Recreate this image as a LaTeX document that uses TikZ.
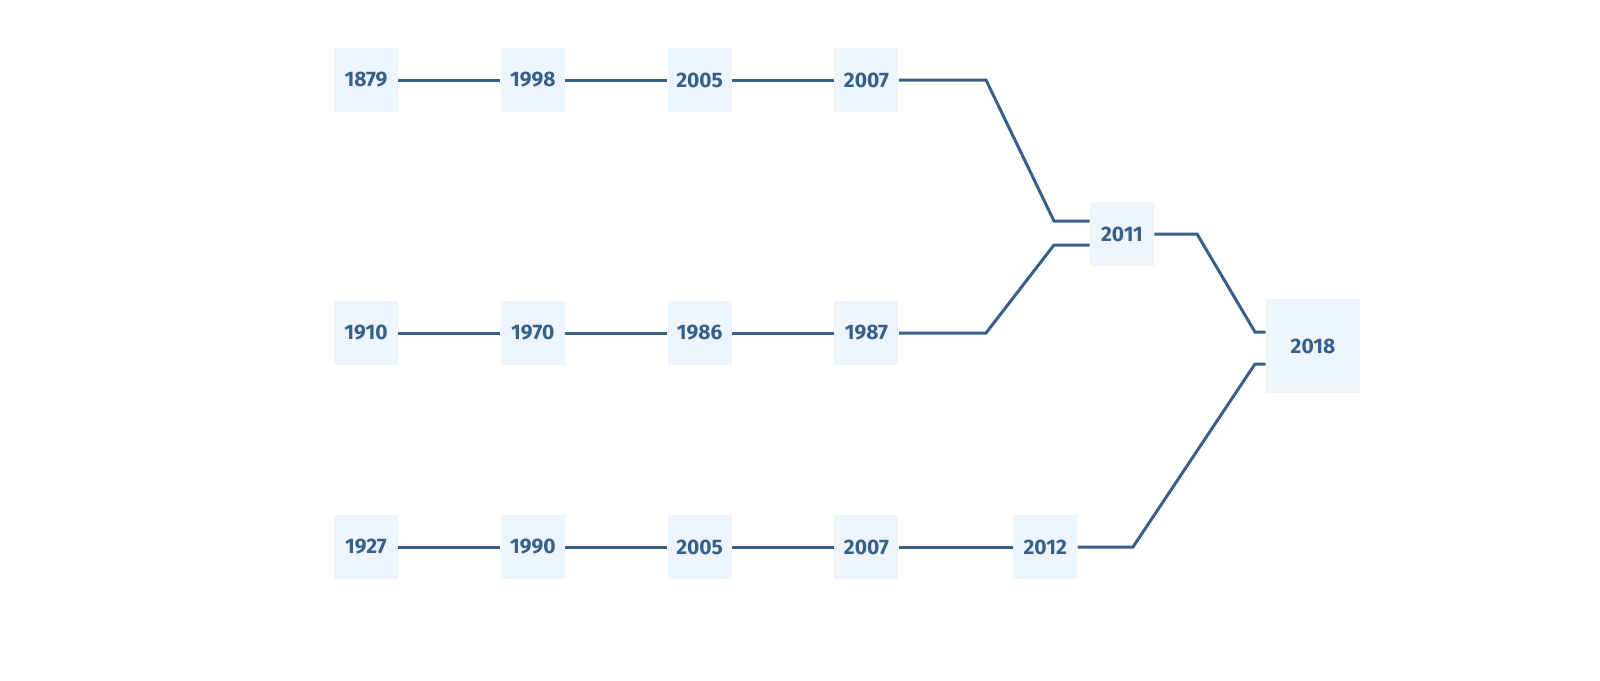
\documentclass[tikz,border=0pt]{standalone}
\usepackage{fontspec}
\setmainfont{Fira Sans}
\usetikzlibrary{positioning}
\definecolor{lineblue}{HTML}{36608A}
\definecolor{boxfill}{HTML}{EEF4FB}

\begin{document}
\begin{tikzpicture}[
x=0.5pt, y=-0.5pt,
node distance=51pt,
year/.style={
	rectangle,
	fill=boxfill,
	text=lineblue,
	font=\fontsize{10.5}{12}\selectfont\bfseries,
	minimum width=32pt,
	minimum height=32pt,
	inner sep=0pt
},
line/.style={
	draw=lineblue, line width=1.5pt
}
]
\useasboundingbox[fill=white] (0,0) rectangle (1600,680);

% Nodes
\node[year] (a1879) at (366,80) {1879};
\node[year, right=of a1879] (a1998) {1998};
\node[year, right=of a1998] (a2005) {2005};
\node[year, right=of a2005] (a2007) {2007};

\node[year] (b1910) at (366,333) {1910};
\node[year, right=of b1910] (b1970) {1970};
\node[year, right=of b1970] (b1986) {1986};
\node[year, right=of b1986] (b1987) {1987};

\node[year] (c1927) at (366,547) {1927};
\node[year, right=of c1927] (c1990) {1990};
\node[year, right=of c1990] (c2005) {2005};
\node[year, right=of c2005] (c2007) {2007};
\node[year, right=57pt of c2007] (c2012) {2012};

\node[year] (m2011) at (1122,234) {2011};
\node[year, minimum size=47pt] (m2018) at (1313,346) {2018};

% Lines
\draw[line] (a1879) -- (a1998);
\draw[line] (a1998) -- (a2005);
\draw[line] (a2005) -- (a2007);
\draw[line] (b1910) -- (b1970);
\draw[line] (b1970) -- (b1986);
\draw[line] (b1986) -- (b1987);
\draw[line] (c1927) -- (c1990);
\draw[line] (c1990) -- (c2005);
\draw[line] (c2005) -- (c2007);
\draw[line] (c2007) -- (c2012);

\draw[line] (a2007.east) -- (986,80) -- (1054,221) -- ([yshift=6.5pt]m2011.west);
\draw[line] (b1987.east) -- (986,333) -- (1054,245) -- ([yshift=-5.5pt]m2011.west);
\draw[line] (m2011.east) -- (1197,234) -- (1255,332) -- ([yshift=7pt]m2018.west);
\draw[line] (c2012.east) -- (1133,547) -- (1255,364) -- ([yshift=-9pt]m2018.west);

\end{tikzpicture}
\end{document}
